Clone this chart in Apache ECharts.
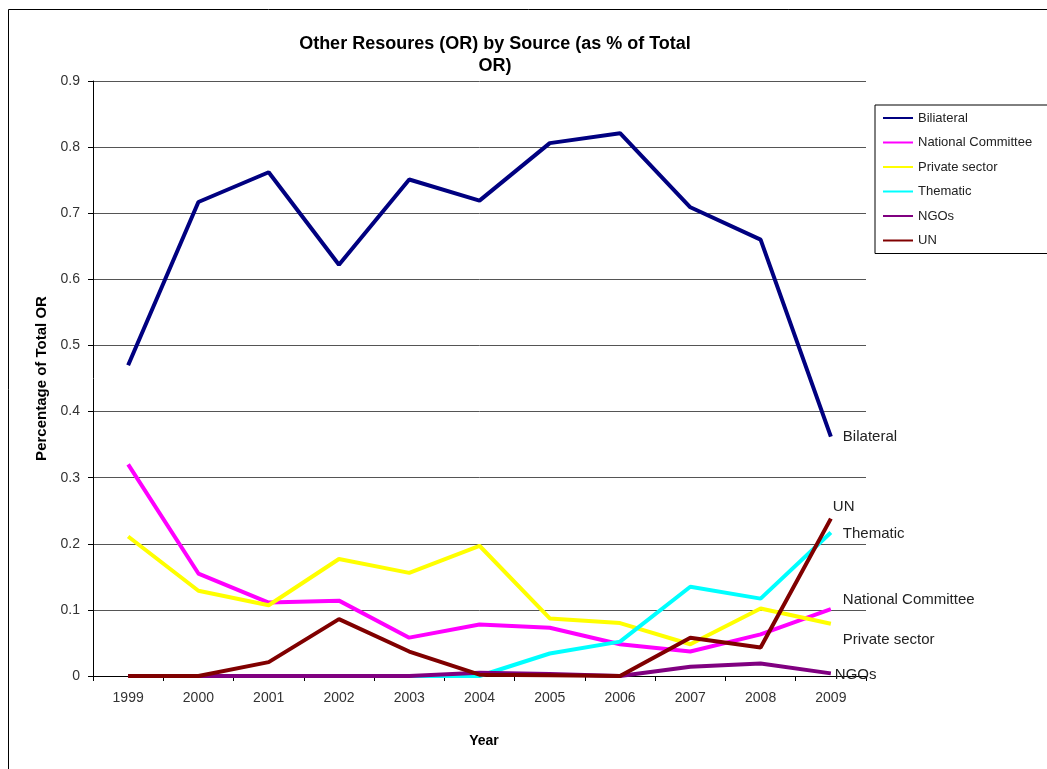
<!DOCTYPE html>
<html>
<head>
<meta charset="utf-8">
<script src="https://cdn.jsdelivr.net/npm/echarts@6/dist/echarts.min.js"></script>
<style>
  html, body { margin: 0; padding: 0; background: #fff; }
  #chart { width: 1047px; height: 769px; }
</style>
</head>
<body>
<div id="chart"></div>
<script>
// Years on the category axis
const years = ['1999', '2000', '2001', '2002', '2003', '2004', '2005', '2006', '2007', '2008', '2009'];

// Share of total Other Resources by source
const bilateral         = [0.470, 0.717, 0.762, 0.622, 0.751, 0.719, 0.806, 0.821, 0.709, 0.660, 0.362];
const nationalCommittee = [0.320, 0.155, 0.111, 0.114, 0.058, 0.078, 0.073, 0.048, 0.037, 0.063, 0.101];
const privateSector     = [0.211, 0.129, 0.107, 0.177, 0.156, 0.197, 0.087, 0.080, 0.048, 0.102, 0.079];
const thematic          = [0, 0, 0, 0, 0, 0, 0.034, 0.052, 0.135, 0.117, 0.217];
const ngos              = [0, 0, 0, 0, 0, 0.005, 0.003, 0, 0.014, 0.019, 0.004];
const un                = [0, 0, 0.021, 0.086, 0.037, 0.002, 0.001, 0, 0.058, 0.043, 0.238];

// Y axis ticks
const yMin = 0, yMax = 0.9, yStep = 0.1;

const FONT = '"Liberation Sans", Arial, sans-serif';

function lineSeries(name, data, color, endText, labelOffset) {
  return {
    name: name,
    type: 'line',
    data: data,
    showSymbol: false,
    symbol: 'none',
    lineStyle: { color: color, width: 4 },
    itemStyle: { color: color },
    emphasis: { disabled: true },
    endLabel: {
      show: true,
      formatter: endText,
      distance: 12,
      offset: labelOffset,
      color: '#222',
      fontFamily: FONT,
      fontSize: 15
    },
    labelLayout: { hideOverlap: false }
  };
}

const chart = echarts.init(document.getElementById('chart'), null, { renderer: 'canvas' });

chart.setOption({
  backgroundColor: '#fff',
  animation: false,
  graphic: [
    {
      type: 'rect',
      shape: { x: 8.5, y: 9.5, width: 1100, height: 820 },
      style: { fill: 'none', stroke: '#000', lineWidth: 1 },
      silent: true,
      z: -1
    },
    {
      type: 'text',
      x: 495,
      y: 33,
      style: {
        text: 'Other Resoures (OR) by Source (as % of Total\nOR)',
        textAlign: 'center',
        fontFamily: FONT,
        fontWeight: 'bold',
        fontSize: 18,
        lineHeight: 22,
        fill: '#000'
      }
    }
  ],
  legend: {
    orient: 'vertical',
    left: 875,
    top: 105,
    padding: [6, 40, 6, 8],
    itemGap: 10.5,
    itemWidth: 30,
    itemHeight: 2,
    icon: 'rect',
    borderColor: '#000',
    borderWidth: 1,
    backgroundColor: '#fff',
    selectedMode: false,
    textStyle: { fontFamily: FONT, fontSize: 13, color: '#222', lineHeight: 14 },
    data: ['Biliateral', 'National Committee', 'Private sector', 'Thematic', 'NGOs', 'UN']
  },
  grid: { left: 93, right: 181, top: 81, bottom: 93, containLabel: false },
  xAxis: {
    type: 'category',
    data: years,
    boundaryGap: true,
    name: 'Year',
    nameLocation: 'middle',
    nameGap: 58,
    nameTextStyle: { fontFamily: FONT, fontWeight: 'bold', fontSize: 14, color: '#000', padding: [0, 0, 0, 9] },
    axisLine: { lineStyle: { color: '#000', width: 1 } },
    axisTick: { show: true, alignWithLabel: false, length: 5, lineStyle: { color: '#000' } },
    axisLabel: { fontFamily: FONT, fontSize: 14, color: '#333', margin: 15 },
    splitLine: { show: false }
  },
  yAxis: {
    type: 'value',
    min: yMin,
    max: yMax,
    interval: yStep,
    name: 'Percentage of Total OR',
    nameLocation: 'middle',
    nameRotate: 90,
    nameGap: 42,
    nameTextStyle: { fontFamily: FONT, fontWeight: 'bold', fontSize: 15, color: '#000' },
    axisLine: { show: true, lineStyle: { color: '#000', width: 1 } },
    axisTick: { show: true, inside: false, length: 5, lineStyle: { color: '#000' } },
    axisLabel: {
      fontFamily: FONT, fontSize: 14, color: '#333', margin: 13,
      formatter: v => (Math.round(v * 10) / 10).toString()
    },
    splitLine: { show: true, lineStyle: { color: '#555', width: 1 } }
  },
  series: [
    lineSeries('Biliateral', bilateral, '#000080', 'Bilateral', [0, 0]),
    lineSeries('National Committee', nationalCommittee, '#ff00ff', 'National Committee', [0, -9]),
    lineSeries('Private sector', privateSector, '#ffff00', 'Private sector', [0, 16]),
    lineSeries('Thematic', thematic, '#00ffff', 'Thematic', [0, 1]),
    lineSeries('NGOs', ngos, '#800080', 'NGOs', [-8, 2]),
    lineSeries('UN', un, '#800000', 'UN', [-10, -12])
  ]
});
</script>
</body>
</html>
